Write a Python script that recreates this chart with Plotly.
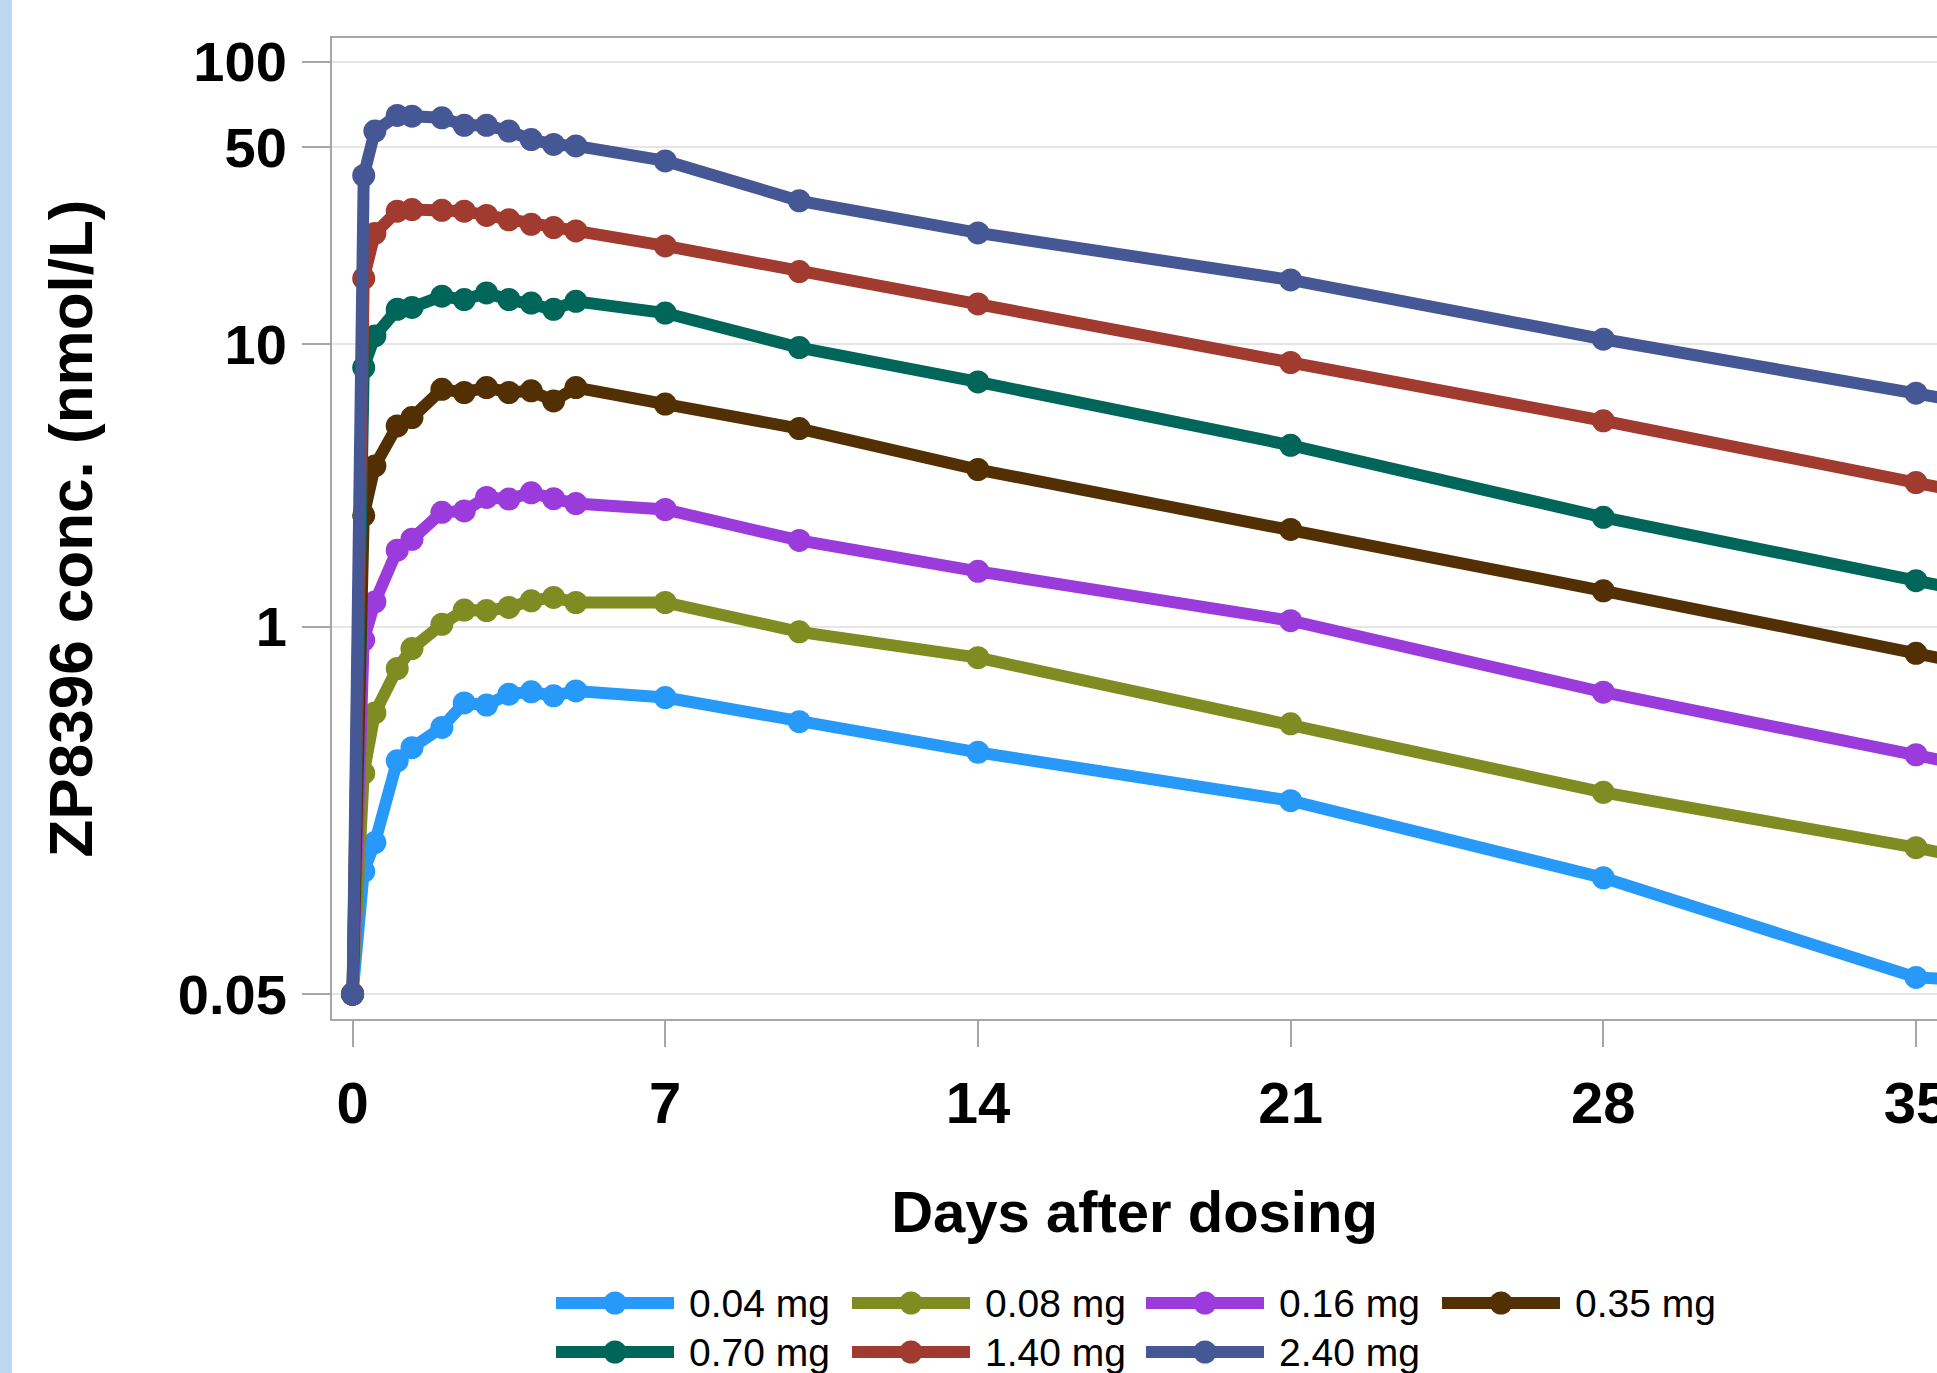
import plotly.graph_objects as go

# ---------------- data ----------------
days = [0, 0.25, 0.5, 1, 1.33, 2, 2.5, 3, 3.5, 4, 4.5, 5, 7, 10, 14, 21, 28, 35, 42]

dose_labels = ["0.04 mg", "0.08 mg", "0.16 mg", "0.35 mg", "0.70 mg", "1.40 mg", "2.40 mg"]
dose_colors = ["#2699F9", "#7F8C22", "#9C3BDC", "#523003", "#00665A", "#A13A2F", "#465795"]

conc_004 = [0.05, 0.136, 0.172, 0.335, 0.373, 0.44, 0.537, 0.528, 0.577, 0.588, 0.569, 0.592, 0.561,
            0.461, 0.359, 0.242, 0.129, 0.0573, 0.05]
conc_008 = [0.05, 0.303, 0.495, 0.711, 0.837, 1.02, 1.145, 1.14, 1.17, 1.235, 1.27, 1.218, 1.218,
            0.959, 0.777, 0.453, 0.259, 0.165, 0.10]
conc_016 = [0.05, 0.897, 1.224, 1.866, 2.04, 2.54, 2.57, 2.87, 2.83, 2.98, 2.84, 2.73, 2.60,
            2.02, 1.57, 1.05, 0.586, 0.352, 0.21]
conc_035 = [0.05, 2.48, 3.71, 5.14, 5.50, 6.93, 6.75, 7.03, 6.75, 6.84, 6.30, 7.03, 6.14,
            5.03, 3.60, 2.21, 1.34, 0.805, 0.48]
conc_070 = [0.05, 8.27, 10.7, 13.3, 13.5, 14.8, 14.4, 15.2, 14.4, 14.0, 13.3, 14.2, 12.9,
            9.74, 7.36, 4.39, 2.44, 1.455, 0.87]
conc_140 = [0.05, 17.1, 24.7, 29.6, 30.0, 29.8, 29.6, 28.6, 27.6, 26.6, 25.9, 25.2, 22.3,
            18.1, 13.9, 8.62, 5.36, 3.24, 1.95]
conc_240 = [0.05, 39.6, 56.9, 64.6, 64.2, 63.4, 59.6, 59.6, 56.9, 53.1, 51.0, 50.4, 44.6,
            32.2, 24.8, 16.9, 10.42, 6.71, 4.3]

series = [conc_004, conc_008, conc_016, conc_035, conc_070, conc_140, conc_240]

x_ticks = [0, 7, 14, 21, 28, 35]
y_ticks = [0.05, 1, 10, 50, 100]
y_ticktext = ["0.05", "1", "10", "50", "100"]

x_title = "Days after dosing"
y_title = "ZP8396 conc. (nmol/L)"

# ---------------- geometry ----------------
W, H = 1937, 1373
ML, MR, MT, MB = 332, 0, 38, 354
PW = W - ML - MR
PH = H - MT - MB

FONT = "Liberation Sans, Arial, Helvetica, sans-serif"
AXIS_GRAY = "#a6a6a6"

fig = go.Figure()
for name, col, ys in zip(dose_labels, dose_colors, series):
    fig.add_trace(go.Scatter(
        x=days, y=ys, name=name, mode="lines+markers",
        line=dict(color=col, width=12),
        marker=dict(color=col, size=23),
        showlegend=False,
    ))


def px_to_paper_x(px):
    return (px - ML) / PW


def px_to_paper_y(py):
    return (H - MB - py) / PH


shapes = []
annotations = []

# light blue strip at the very left edge
shapes.append(dict(type="rect", xref="paper", yref="paper",
                   x0=px_to_paper_x(0), x1=px_to_paper_x(12),
                   y0=px_to_paper_y(H), y1=px_to_paper_y(0),
                   fillcolor="#bdd7ee", line=dict(width=0), layer="below"))

# custom legend (long line symbols like the original)
col_x = [556, 852, 1146, 1442]
row_y = [1303, 1352]
seg_len = 118
mr = 11.5
for i, (name, col) in enumerate(zip(dose_labels, dose_colors)):
    r, c = divmod(i, 4)
    x0 = col_x[c]
    yc = row_y[r]
    shapes.append(dict(type="line", xref="paper", yref="paper",
                       x0=px_to_paper_x(x0), x1=px_to_paper_x(x0 + seg_len),
                       y0=px_to_paper_y(yc), y1=px_to_paper_y(yc),
                       line=dict(color=col, width=12)))
    cx = x0 + seg_len / 2
    shapes.append(dict(type="circle", xref="paper", yref="paper",
                       x0=px_to_paper_x(cx - mr), x1=px_to_paper_x(cx + mr),
                       y0=px_to_paper_y(yc + mr), y1=px_to_paper_y(yc - mr),
                       fillcolor=col, line=dict(width=0)))
    annotations.append(dict(xref="paper", yref="paper",
                            x=px_to_paper_x(x0 + seg_len + 13), y=px_to_paper_y(yc),
                            xanchor="left", yanchor="middle", showarrow=False,
                            text=name, font=dict(family=FONT, size=39, color="black")))

fig.update_layout(
    width=W, height=H, autosize=False,
    margin=dict(l=ML, r=MR, t=MT, b=MB, pad=0, autoexpand=False),
    paper_bgcolor="white", plot_bgcolor="white",
    shapes=shapes, annotations=annotations,
    showlegend=False,
    xaxis=dict(
        range=[-0.46, 35.47], tickvals=x_ticks, ticktext=[str(t) for t in x_ticks],
        automargin=False,
        showgrid=False, zeroline=False,
        showline=True, linecolor=AXIS_GRAY, linewidth=2, mirror=True,
        ticks="outside", ticklen=26, tickwidth=2, tickcolor=AXIS_GRAY,
        tickfont=dict(family=FONT, size=58, color="black", weight="bold"),
        ticklabelstandoff=6, ticklabeloverflow="allow",
        title=dict(text=x_title, standoff=58,
                   font=dict(family=FONT, size=58, color="black", weight="bold")),
    ),
    yaxis=dict(
        type="log", range=[-1.3892, 2.0846],
        tickvals=y_ticks, ticktext=y_ticktext,
        automargin=False,
        showgrid=True, gridcolor="#e6e6e6", gridwidth=2,
        showline=True, linecolor=AXIS_GRAY, linewidth=2, mirror=False,
        ticks="outside", ticklen=28, tickwidth=2, tickcolor=AXIS_GRAY,
        tickfont=dict(family=FONT, size=56, color="black", weight="bold"),
        ticklabelstandoff=4,
        title=dict(text=y_title, standoff=65,
                   font=dict(family=FONT, size=62, color="black", weight="bold")),
    ),
)

post = (
    "document.body.style.margin='0px';"
    "document.body.style.overflow='hidden';"
)

fig.write_html(
    "out.html",
    config={"displayModeBar": False, "responsive": False},
    post_script=post,
)
